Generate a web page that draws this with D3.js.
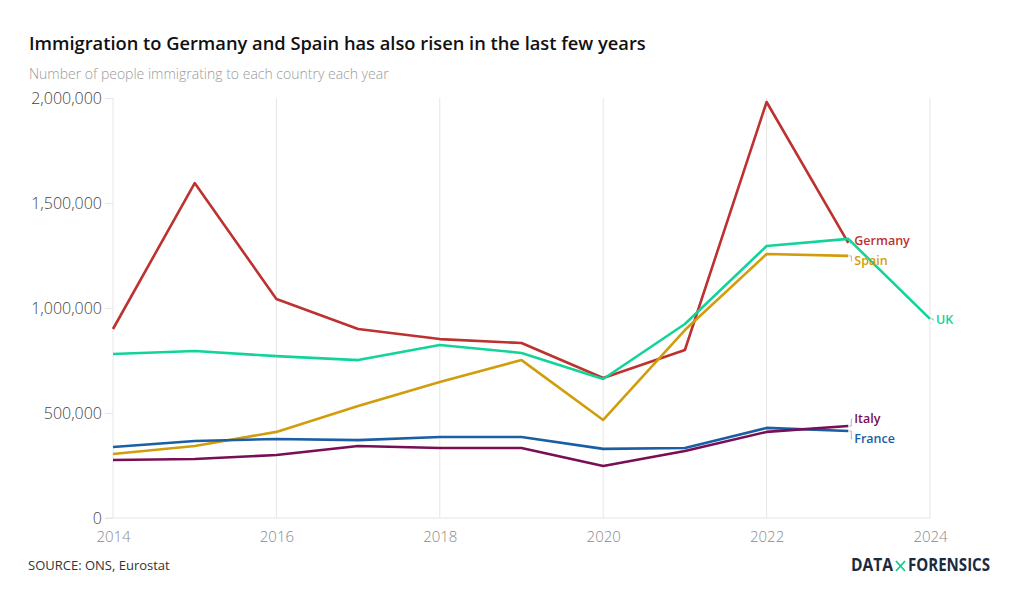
<!DOCTYPE html>
<html>
<head>
<meta charset="utf-8">
<script src="https://cdn.jsdelivr.net/npm/d3@7"></script>
<style>
  body { margin: 0; background: #fff; }
  svg text { font-family: "Open Sans", sans-serif; }
</style>
</head>
<body>
<div id="chart"></div>
<script>
// values
var years = [2014, 2015, 2016, 2017, 2018, 2019, 2020, 2021, 2022, 2023, 2024];
var germany = [900000, 1595000, 1043000, 900000, 852000, 833000, 667000, 800000, 1981000, 1310000];
var uk = [781000, 795000, 771000, 752000, 824000, 786000, 662000, 924000, 1295000, 1329000, 948000];
var spain = [305000, 343000, 410000, 533000, 648000, 752000, 467000, 895000, 1257000, 1248000];
var france = [338000, 367000, 376000, 371000, 386000, 386000, 329000, 333000, 429000, 414000];
var italy = [276000, 281000, 300000, 343000, 333000, 333000, 248000, 319000, 410000, 438000];
var xTicks = [2014, 2016, 2018, 2020, 2022, 2024];
var yTicks = [0, 500000, 1000000, 1500000, 2000000];

var series = [
  {name: "Germany", values: germany, color: "#bd3131", labelY: 241},
  {name: "UK", values: uk, color: "#12d49a", labelY: 320},
  {name: "Spain", values: spain, color: "#d29d0c", labelY: 261},
  {name: "France", values: france, color: "#1a5ea4", labelY: 439},
  {name: "Italy", values: italy, color: "#780e55", labelY: 419}
];

var width = 1020, height = 606;
var svg = d3.select("#chart").append("svg")
    .attr("width", width)
    .attr("height", height);

var x = d3.scaleLinear().domain([2014, 2024]).range([113, 930]);
var y = d3.scaleLinear().domain([0, 2000000]).range([518, 98]);

// titles
svg.append("text").attr("x", 29).attr("y", 50)
    .attr("font-size", 18.3).attr("font-weight", 600).attr("fill", "#111")
    .text("Immigration to Germany and Spain has also risen in the last few years");
svg.append("text").attr("x", 29).attr("y", 79)
    .attr("font-size", 14).attr("font-weight", 300).attr("fill", "#9a9a9a")
    .text("Number of people immigrating to each country each year");

// vertical grid
svg.append("g").selectAll("line").data(xTicks).enter().append("line")
    .attr("x1", d => x(d)).attr("x2", d => x(d))
    .attr("y1", y(2000000)).attr("y2", y(0))
    .attr("stroke", "#e6e6e6").attr("stroke-width", 1);

// baseline
svg.append("line").attr("x1", 105).attr("x2", x(2024))
    .attr("y1", y(0)).attr("y2", y(0))
    .attr("stroke", "#e6e6e6");

// y axis
var yAxis = svg.append("g").attr("transform", "translate(113,0)")
    .call(d3.axisLeft(y).tickValues(yTicks).tickFormat(d3.format(",")).tickSize(8).tickPadding(3));
yAxis.select(".domain").remove();
yAxis.selectAll(".tick line").attr("stroke", "#e6e6e6");
yAxis.selectAll(".tick text").attr("font-size", 16).attr("font-weight", 300)
    .attr("fill", "#444").attr("font-family", "Open Sans, sans-serif");

// x axis
var xAxis = svg.append("g").attr("transform", "translate(0,518)")
    .call(d3.axisBottom(x).tickValues(xTicks).tickFormat(d3.format("d")).tickSize(0).tickPadding(13));
xAxis.select(".domain").remove();
xAxis.selectAll(".tick text").attr("font-size", 15).attr("font-weight", 300)
    .attr("fill", "#8a8a8a").attr("font-family", "Open Sans, sans-serif");

var line = d3.line()
    .x((d, i) => x(years[i]))
    .y(d => y(d));

series.forEach(function(s) {
  svg.append("path").datum(s.values)
      .attr("d", line)
      .attr("fill", "none")
      .attr("stroke", s.color)
      .attr("stroke-width", 2.6)
      .attr("stroke-linejoin", "round");

  var last = s.values.length - 1;
  var lx = x(years[last]), ly = y(s.values[last]);
  // small leader to label
  svg.append("path")
      .attr("d", "M" + (lx + 1) + "," + ly + "H" + (lx + 3) + "V" + (s.labelY) + "H" + (lx + 4))
      .attr("fill", "none").attr("stroke", "#b5b5b5").attr("stroke-width", 1);
  svg.append("text")
      .attr("x", lx + 6).attr("y", s.labelY + 4)
      .attr("font-size", 12.5).attr("font-weight", 600)
      .attr("fill", s.color)
      .text(s.name);
});

// footer
svg.append("text").attr("x", 28).attr("y", 570)
    .attr("font-size", 13).attr("fill", "#333")
    .text("SOURCE: ONS, Eurostat");

// logo: two words with a green cross between
var logoFont = "DejaVu Sans Condensed, DejaVu Sans, sans-serif";
svg.append("text").attr("x", 851).attr("y", 571)
    .attr("font-family", logoFont).attr("font-size", 18).attr("font-weight", 700)
    .attr("fill", "#1b2b3f").attr("textLength", 42).attr("lengthAdjust", "spacingAndGlyphs")
    .text("DATA");
svg.append("path")
    .attr("d", "M896,561L905,571M905,561L896,571")
    .attr("stroke", "#18c98f").attr("stroke-width", 1.8);
svg.append("text").attr("x", 908).attr("y", 571)
    .attr("font-family", logoFont).attr("font-size", 18).attr("font-weight", 700)
    .attr("fill", "#1b2b3f").attr("textLength", 82).attr("lengthAdjust", "spacingAndGlyphs")
    .text("FORENSICS");
</script>
</body>
</html>
